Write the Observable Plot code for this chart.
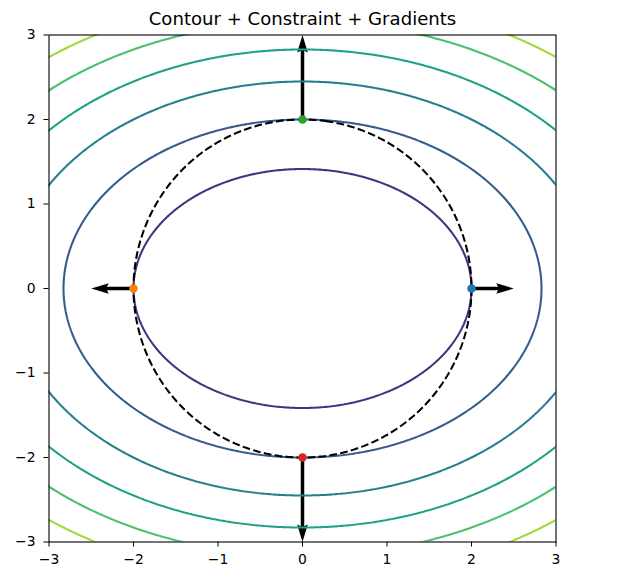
<!DOCTYPE html>
<html>
<head>
<meta charset="utf-8">
<script src="https://cdn.jsdelivr.net/npm/d3@7"></script>
<script src="https://cdn.jsdelivr.net/npm/@observablehq/plot@0.6"></script>
<style>
  html, body { margin: 0; padding: 0; background: #ffffff; }
  #chart svg { display: block; }
  #chart svg, #chart svg text { font-family: "DejaVu Sans", sans-serif !important; }
</style>
</head>
<body>
<div id="chart"></div>
<script>
// ---- data ----
const title = "Contour + Constraint + Gradients";
const xTicks = [-3, -2, -1, 0, 1, 2, 3];
const yTicks = [-3, -2, -1, 0, 1, 2, 3];
const contourLevels = [4, 8, 12, 16, 20, 24];     // f(x, y) = x^2 + 2y^2
const levelColorDomain = [0, 28];
const constraintLevel = [4];                      // g(x, y) = x^2 + y^2 = 4
const pointX = [2, -2, 0, 0];
const pointY = [0, 0, 2, -2];
const gradX = [4, -4, 0, 0];
const gradY = [0, 0, 8, -8];
const pointColors = ["#1f77b4", "#ff7f0e", "#2ca02c", "#d62728"];
const arrowScale = 8;                             // gradient magnitude per data unit

const objective = (x, y) => x * x + 2 * y * y;
const constraint = (x, y) => x * x + y * y;

// ---- layout ----
const W = 622, H = 579;
const margin = {top: 34.5, right: 66.5, bottom: 37.5, left: 48.5};
const pxPerUnit = (W - margin.left - margin.right) / 6;

const points = pointX.map((x, i) => ({x, y: pointY[i], color: pointColors[i]}));
const arrows = pointX.map((x, i) => ({
  x, y: pointY[i],
  len: Math.hypot(gradX[i], gradY[i]),
  angle: Math.atan2(gradX[i], gradY[i]) * 180 / Math.PI
}));

// filled matplotlib-like quiver arrow
const arrowShape = {
  draw(ctx, l) {
    const w = 1.75, hw = 5.3, hl = 17.5, ha = 15.7;
    ctx.moveTo(-w, 0);
    ctx.lineTo(-w, -(l - ha));
    ctx.lineTo(-hw, -(l - hl));
    ctx.lineTo(0, -l);
    ctx.lineTo(hw, -(l - hl));
    ctx.lineTo(w, -(l - ha));
    ctx.lineTo(w, 0);
    ctx.closePath();
  }
};

const chart = Plot.plot({
  width: W,
  height: H,
  marginTop: margin.top,
  marginRight: margin.right,
  marginBottom: margin.bottom,
  marginLeft: margin.left,
  style: {fontFamily: "DejaVu Sans, sans-serif", background: "#ffffff", color: "black"},
  x: {domain: [-3, 3]},
  y: {domain: [-3, 3]},
  color: {type: "linear", scheme: "viridis", domain: levelColorDomain},
  length: {type: "linear", domain: [0, arrowScale], range: [0, pxPerUnit]},
  marks: [
    Plot.vector(arrows, {
      x: "x", y: "y", length: "len", rotate: "angle", anchor: "start",
      shape: arrowShape, fill: "black", stroke: "none"
    }),
    Plot.contour({
      value: objective, x1: -4, x2: 4, y1: -4, y2: 4,
      thresholds: contourLevels, stroke: "value", fill: "none",
      strokeWidth: 2.08, clip: true
    }),
    Plot.contour({
      value: constraint, x1: -4, x2: 4, y1: -4, y2: 4,
      thresholds: constraintLevel, stroke: "black", fill: "none",
      strokeWidth: 2.08, strokeDasharray: "7.7,3.3", clip: true
    }),
    ...points.map(p => Plot.dot([p], {x: "x", y: "y", r: 4.3, fill: p.color, stroke: "none"})),
    Plot.frame({stroke: "black", strokeWidth: 1.1}),
    Plot.axisX({ticks: xTicks, tickFormat: d3.format("d"), tickSize: 5, tickPadding: 7.5,
      fontSize: 13.9, color: "black", label: null}),
    Plot.axisY({ticks: yTicks, tickFormat: d3.format("d"), tickSize: 5, tickPadding: 8.5,
      fontSize: 13.9, color: "black", label: null}),
    Plot.text([title], {text: d => d, frameAnchor: "top", lineAnchor: "middle", dy: -15.3,
      fontSize: 18.1, fill: "black"})
  ]
});

document.getElementById("chart").appendChild(chart);
</script>
</body>
</html>
